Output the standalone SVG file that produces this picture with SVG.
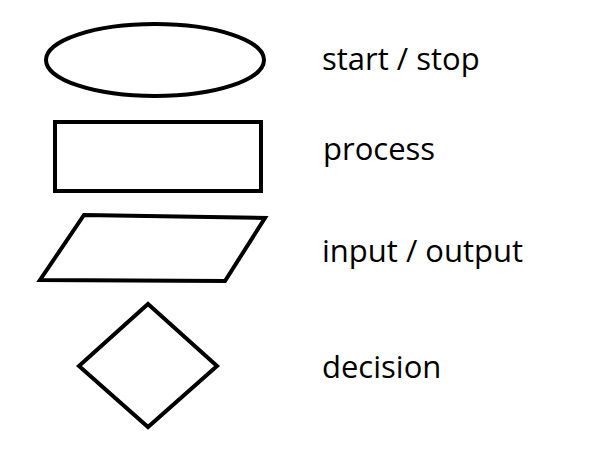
<svg xmlns="http://www.w3.org/2000/svg" width="615" height="449" viewBox="0 0 615 449">
<style>
.s{fill:none;stroke:#000;stroke-width:4;stroke-linejoin:miter}
.t{font-family:"Open Sans","DejaVu Sans",sans-serif;font-size:31px;fill:#000}
</style>
<rect width="615" height="449" fill="#fff"/>
<g id="startstop"><ellipse class="s" cx="155" cy="60" rx="109" ry="36"/><text class="t" x="322" y="70">start / stop</text></g>
<g id="process"><rect class="s" x="55" y="122" width="206" height="69"/><text class="t" x="323" y="160">process</text></g>
<g id="io"><polygon class="s" points="84,215 265,218 225,281 40,280"/><text class="t" x="322" y="262">input / output</text></g>
<g id="decision"><polygon class="s" points="148,304 217,366 148,427 79,366"/><text class="t" x="322" y="378">decision</text></g>
<g id="connectors"/>
</svg>
